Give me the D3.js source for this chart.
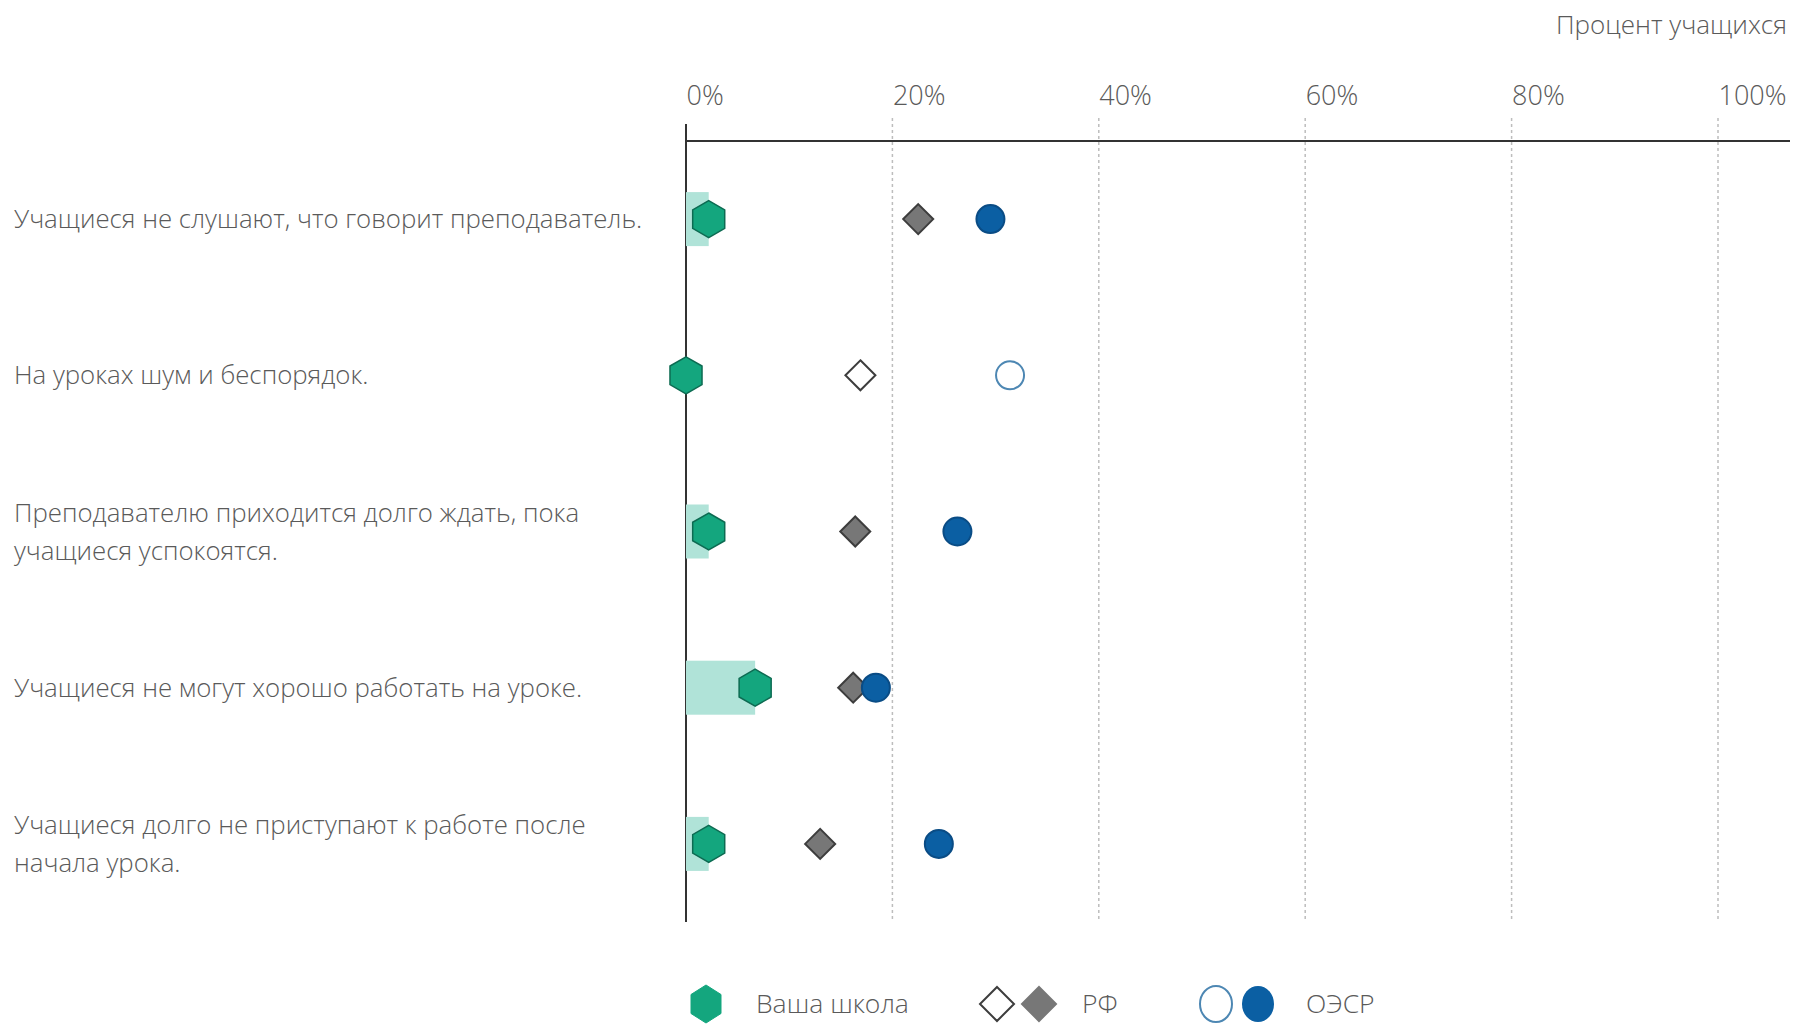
<!DOCTYPE html>
<html><head><meta charset="utf-8">
<script src="https://cdn.jsdelivr.net/npm/d3@7"></script>
<style>
html,body{margin:0;padding:0;background:#fff;}
svg text{font-family:"Open Sans","Noto Sans",sans-serif;font-weight:300;fill:#5a5a5a;}
</style></head>
<body>
<svg id="chart" width="1808" height="1024"></svg>
<script>
const categories = [
  ["Учащиеся не слушают, что говорит преподаватель."],
  ["На уроках шум и беспорядок."],
  ["Преподавателю приходится долго ждать, пока", "учащиеся успокоятся."],
  ["Учащиеся не могут хорошо работать на уроке."],
  ["Учащиеся долго не приступают к работе после", "начала урока."]
];
const schoolValues = [2.2, 0, 2.2, 6.7, 2.2];
const rfValues = [22.5, 16.9, 16.4, 16.2, 13.0];
const oecdValues = [29.5, 31.4, 26.3, 18.4, 24.5];
const rfFilled = [true, false, true, true, true];
const oecdFilled = [true, false, true, true, true];
const tickValues = [0, 20, 40, 60, 80, 100];
const tickLabels = ["0%", "20%", "40%", "60%", "80%", "100%"];
const axisTitle = "Процент учащихся";
const legendLabels = ["Ваша школа", "РФ", "ОЭСР"];

const svg = d3.select("#chart");
const x = d3.scaleLinear().domain([0, 100]).range([686, 1718]);
const y = d3.scaleBand().domain(d3.range(categories.length)).range([141, 922]);
const cy = i => y(i) + y.bandwidth() / 2;

const C = {
  green: "#14a67e", greenStroke: "#0d6b52", bar: "#b0e3d8",
  dia: "#777777", diaStroke: "#3d3d3d",
  circ: "#0b5fa3", circStroke: "#0a4c85", circHollow: "#4d87b3"
};

// gridlines
svg.append("g").selectAll("line").data(tickValues.slice(1)).join("line")
  .attr("x1", d => x(d)).attr("x2", d => x(d))
  .attr("y1", 118).attr("y2", 922)
  .attr("stroke", "#bdbdbd").attr("stroke-width", 1.5).attr("stroke-dasharray", "3,3");

// top axis via d3
const axis = d3.axisTop(x).tickValues(tickValues).tickFormat((d, i) => tickLabels[i]).tickSize(0);
const ag = svg.append("g").attr("transform", "translate(0,141)").call(axis);
ag.select(".domain").remove();
ag.selectAll("text").attr("text-anchor", "start").attr("dy", 0).attr("y", -36)
  .style("font-size", "27px");

// axis lines
svg.append("line").attr("x1", x(0)).attr("x2", 1790).attr("y1", 141).attr("y2", 141)
  .attr("stroke", "#333").attr("stroke-width", 2);
svg.append("line").attr("x1", x(0)).attr("x2", x(0)).attr("y1", 124).attr("y2", 922)
  .attr("stroke", "#333").attr("stroke-width", 2);

svg.append("text").attr("x", 1787).attr("y", 34).attr("text-anchor", "end")
  .style("font-size", "26px").text(axisTitle);

// category labels
const lab = svg.append("g").selectAll("text").data(categories).join("text")
  .attr("x", 14).attr("y", (d, i) => cy(i)).style("font-size", "25.8px");
lab.selectAll("tspan").data(d => d.map((t, k) => ({t, k, n: d.length}))).join("tspan")
  .attr("x", 14)
  .attr("y", function(d){ const i = categories.indexOf(d3.select(this.parentNode).datum()); return cy(i) + (d.k - (d.n - 1) / 2) * 38; })
  .attr("dy", "0.35em").text(d => d.t);

// bars
svg.append("g").selectAll("rect").data(schoolValues).join("rect")
  .attr("x", x(0)).attr("width", d => x(d) - x(0))
  .attr("y", (d, i) => cy(i) - 27).attr("height", 54).attr("fill", C.bar);

function hexPath(r){ const rx = r * Math.cos(Math.PI/6);
  return `M0,${-r}L${rx},${-r/2}L${rx},${r/2}L0,${r}L${-rx},${r/2}L${-rx},${-r/2}Z`; }
function diaPath(r){ return `M0,${-r}L${r},0L0,${r}L${-r},0Z`; }

// RF diamonds
svg.append("g").selectAll("path").data(rfValues).join("path")
  .attr("d", diaPath(15)).attr("transform", (d, i) => `translate(${x(d)},${cy(i)})`)
  .attr("fill", (d, i) => rfFilled[i] ? C.dia : "#fff").attr("stroke", C.diaStroke).attr("stroke-width", 2);

// OECD circles
svg.append("g").selectAll("circle").data(oecdValues).join("circle")
  .attr("cx", d => x(d)).attr("cy", (d, i) => cy(i)).attr("r", 14)
  .attr("fill", (d, i) => oecdFilled[i] ? C.circ : "#fff")
  .attr("stroke", (d, i) => oecdFilled[i] ? C.circStroke : C.circHollow).attr("stroke-width", 2);

// school hexagons
svg.append("g").selectAll("path").data(schoolValues).join("path")
  .attr("d", hexPath(18.5)).attr("transform", (d, i) => `translate(${x(d)},${cy(i)})`)
  .attr("fill", C.green).attr("stroke", C.greenStroke).attr("stroke-width", 1.5);

// legend
const ly = 1004;
const lg = svg.append("g");
lg.append("path").attr("d", `M0,-19L15,-9.5L15,9.5L0,19L-15,9.5L-15,-9.5Z`)
  .attr("transform", `translate(706,${ly})`).attr("fill", C.green).attr("stroke", C.green);
lg.append("text").attr("x", 756).attr("y", ly).attr("dy", "0.35em").style("font-size", "26.5px").text(legendLabels[0]);
lg.append("path").attr("d", diaPath(17)).attr("transform", `translate(997,${ly})`)
  .attr("fill", "#fff").attr("stroke", C.diaStroke).attr("stroke-width", 2);
lg.append("path").attr("d", diaPath(17)).attr("transform", `translate(1039,${ly})`)
  .attr("fill", C.dia).attr("stroke", C.dia).attr("stroke-width", 2);
lg.append("text").attr("x", 1082).attr("y", ly).attr("dy", "0.35em").style("font-size", "26.5px").text(legendLabels[1]);
lg.append("ellipse").attr("cx", 1216).attr("cy", ly).attr("rx", 16).attr("ry", 18)
  .attr("fill", "#fff").attr("stroke", C.circHollow).attr("stroke-width", 2);
lg.append("ellipse").attr("cx", 1258).attr("cy", ly).attr("rx", 16).attr("ry", 18)
  .attr("fill", C.circ);
lg.append("text").attr("x", 1306).attr("y", ly).attr("dy", "0.35em").style("font-size", "26.5px").text(legendLabels[2]);
</script>
</body></html>
